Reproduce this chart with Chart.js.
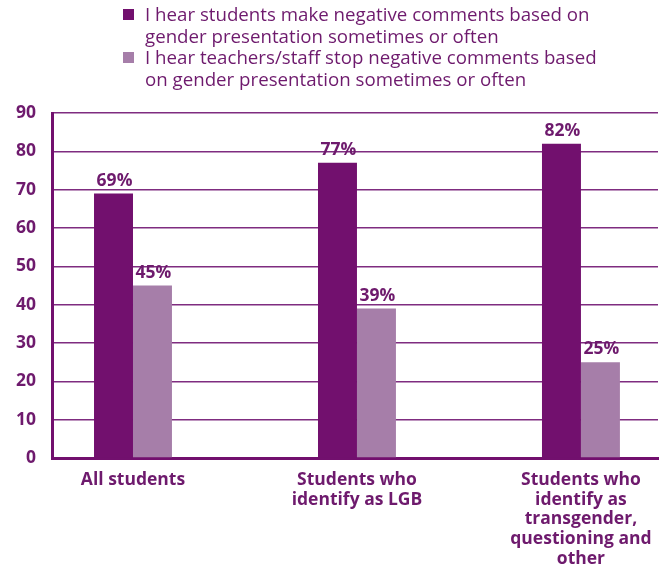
<!DOCTYPE html>
<html>
<head>
<meta charset="utf-8">
<script src="https://cdn.jsdelivr.net/npm/chart.js@4/dist/chart.umd.min.js"></script>
<style>
  html, body { margin: 0; padding: 0; background: #fff; }
  #wrap { position: relative; width: 665px; height: 569px; }
  #legend { position: absolute; left: 123px; top: 3px; font-family: "Open Sans", sans-serif; font-size: 18.7px; line-height: 21.5px; color: #6e1a6d; }
  .item { position: relative; padding-left: 22px; }
  .swatch { position: absolute; left: 0; top: 6px; width: 11px; height: 11px; }
</style>
</head>
<body>
<div id="wrap">
  <canvas id="chart" width="665" height="569"></canvas>
  <div id="legend"></div>
</div>
<script>
const categories = [
    ['All students'],
    ['Students who', 'identify as LGB'],
    ['Students who', 'identify as', 'transgender,', 'questioning and', 'other'],
];
const seriesNames = [
    ['I hear students make negative comments based on', 'gender presentation sometimes or often'],
    ['I hear teachers/staff stop negative comments based', 'on gender presentation sometimes or often'],
];
const studentsNegative = [69, 77, 82];
const staffStop = [45, 39, 25];
const yTicks = [0, 10, 20, 30, 40, 50, 60, 70, 80, 90];

const purple = '#72106e';
const lilac = '#a67ea9';
const textColor = '#6e1a6d';

// legend above the plot
const legend = document.getElementById('legend');
[purple, lilac].forEach((color, i) => {
    const item = document.createElement('div');
    item.className = 'item';
    item.innerHTML = '<span class="swatch" style="background:' + color + '"></span>' + seriesNames[i].join('<br>');
    legend.appendChild(item);
});

// percent labels over each bar
const valueLabels = {
    id: 'valueLabels',
    afterDatasetsDraw(chart) {
        const ctx = chart.ctx;
        ctx.save();
        ctx.font = 'bold 17.5px "Open Sans", sans-serif';
        ctx.fillStyle = textColor;
        ctx.textAlign = 'center';
        ctx.textBaseline = 'alphabetic';
        chart.data.datasets.forEach((ds, di) => {
            chart.getDatasetMeta(di).data.forEach((bar, i) => {
                ctx.fillText(ds.data[i].y + '%', bar.x + 1, bar.y - 8);
            });
        });
        ctx.restore();
    }
};

new Chart(document.getElementById('chart'), {
    type: 'bar',
    data: {
        datasets: [
            {
                label: seriesNames[0].join(' '),
                data: studentsNegative.map((v, i) => ({ x: i, y: v })),
                backgroundColor: purple,
            },
            {
                label: seriesNames[1].join(' '),
                data: staffStop.map((v, i) => ({ x: i, y: v })),
                backgroundColor: lilac,
            },
        ],
    },
    options: {
        responsive: false,
        animation: false,
        layout: { padding: { top: 113, left: 0, right: 7, bottom: 0 } },
        categoryPercentage: 0.348,
        barPercentage: 1,
        plugins: { legend: { display: false }, tooltip: { enabled: false } },
        scales: {
            x: {
                type: 'linear',
                offset: false,
                min: -0.3616,
                max: 2.344,
                afterBuildTicks: (scale) => {
                    scale.ticks = categories.map((c, i) => ({ value: i }));
                },
                afterFit: (scale) => { scale.height = 111; },
                grid: { display: false, drawTicks: false },
                border: { color: purple, width: 3 },
                ticks: {
                    autoSkip: false,
                    maxRotation: 0,
                    padding: 12,
                    color: textColor,
                    font: { family: '"Open Sans", sans-serif', size: 17.5, weight: 'bold', lineHeight: 1.13 },
                    callback: (value) => categories[value],
                },
            },
            y: {
                min: 0,
                max: 90,
                afterBuildTicks: (scale) => {
                    scale.ticks = yTicks.map((v) => ({ value: v }));
                },
                afterFit: (scale) => { scale.width = 52; },
                grid: { color: '#7f2c80', lineWidth: 1.5, drawTicks: false },
                border: { color: purple, width: 3 },
                ticks: {
                    padding: 16,
                    color: textColor,
                    font: { family: '"Open Sans", sans-serif', size: 17.5, weight: 'bold' },
                },
            },
        },
    },
    plugins: [valueLabels],
});
</script>
</body>
</html>
